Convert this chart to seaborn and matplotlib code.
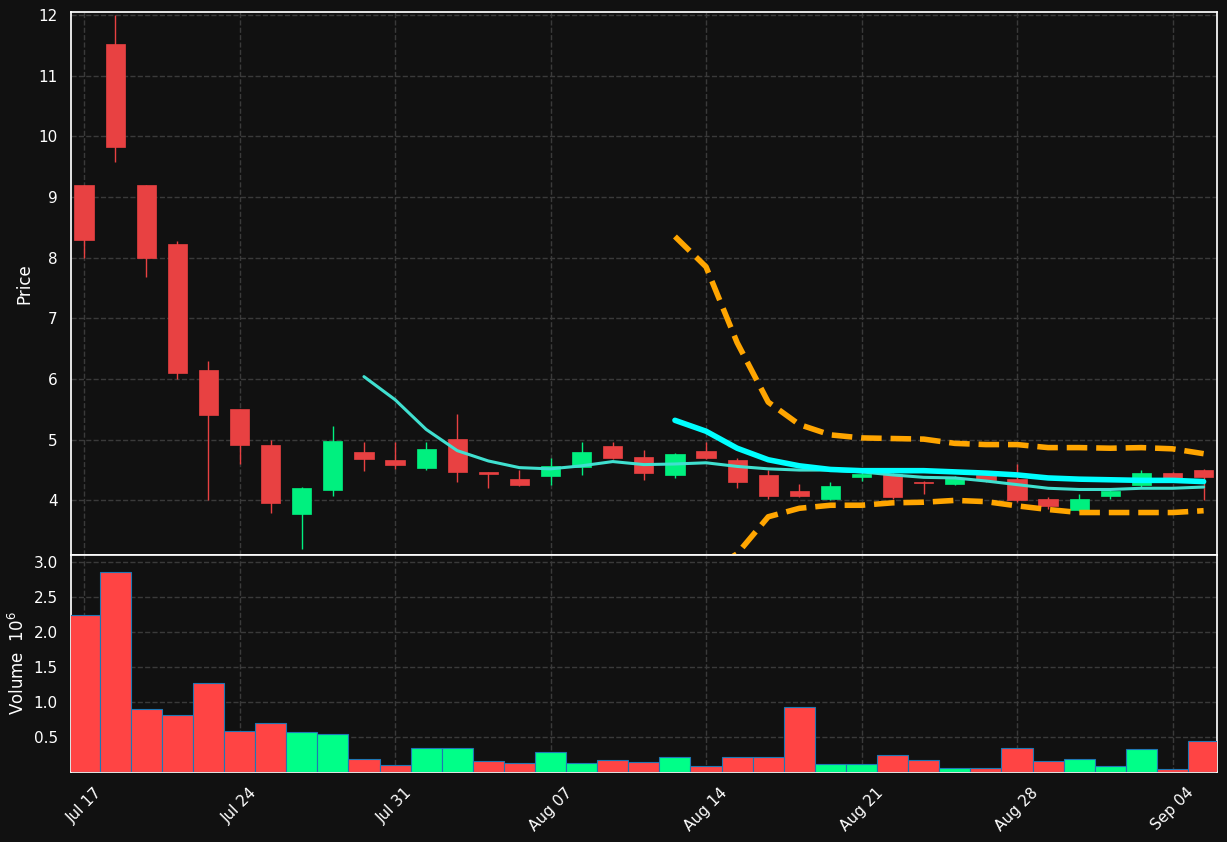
import numpy as np
import pandas as pd
import matplotlib.pyplot as plt
import seaborn as sns

dates = pd.bdate_range('2023-07-17', '2023-09-05')
opens = [9.2, 11.52, 9.2, 8.22, 6.15, 5.5, 4.91, 3.77, 4.17, 4.8, 4.67, 4.53, 5.01, 4.46, 4.35,
         4.41, 4.55, 4.89, 4.71, 4.42, 4.81, 4.66, 4.42, 4.15, 4.02, 4.38, 4.43, 4.3, 4.27, 4.42,
         4.35, 4.03, 3.84, 4.07, 4.25, 4.45, 4.5]
closes = [8.3, 9.83, 8.0, 6.1, 5.41, 4.91, 3.95, 4.2, 4.98, 4.68, 4.58, 4.84, 4.46, 4.43, 4.26,
          4.57, 4.8, 4.7, 4.45, 4.76, 4.7, 4.3, 4.07, 4.08, 4.24, 4.44, 4.05, 4.28, 4.37, 4.33,
          4.0, 3.9, 4.02, 4.15, 4.45, 4.35, 4.38]
highs = [9.2, 12.0, 9.2, 8.28, 6.3, 5.5, 5.0, 4.22, 5.23, 4.97, 4.97, 4.97, 5.42, 4.47, 4.5,
         4.7, 4.97, 4.96, 4.83, 4.78, 4.97, 4.7, 4.5, 4.27, 4.3, 4.46, 4.45, 4.32, 4.4, 4.45,
         4.6, 4.05, 4.1, 4.17, 4.5, 4.47, 4.52]
lows = [8.0, 9.58, 7.68, 6.0, 4.0, 4.6, 3.8, 3.2, 4.08, 4.48, 4.52, 4.5, 4.3, 4.2, 4.24,
        4.25, 4.42, 4.68, 4.33, 4.37, 4.68, 4.2, 4.02, 4.05, 4.0, 4.32, 4.03, 4.1, 4.25, 4.3,
        3.98, 3.86, 3.82, 4.02, 4.22, 4.33, 4.0]
volume = [2.25, 2.86, 0.9, 0.82, 1.27, 0.59, 0.7, 0.57, 0.54, 0.19, 0.1, 0.35, 0.35, 0.16, 0.13,
          0.28, 0.13, 0.17, 0.14, 0.22, 0.08, 0.22, 0.22, 0.93, 0.12, 0.11, 0.25, 0.17, 0.06, 0.06,
          0.34, 0.16, 0.19, 0.08, 0.33, 0.05, 0.44]
vol_up = "RRRRRRRGGRRGGRRGGRRGRRRRGGRRGRRRGGGRR"
ma_short = [6.04, 5.66, 5.17, 4.82, 4.65, 4.54, 4.52, 4.57, 4.64, 4.59, 4.6, 4.62, 4.56, 4.52,
            4.5, 4.5, 4.47, 4.42, 4.38, 4.37, 4.32, 4.26, 4.2, 4.18, 4.18, 4.2, 4.2, 4.22]
ma_long = [5.32, 5.14, 4.86, 4.67, 4.57, 4.51, 4.49, 4.49, 4.49, 4.47, 4.45, 4.42, 4.37, 4.35,
           4.34, 4.33, 4.33, 4.31]
band_upper = [8.35, 7.85, 6.6, 5.62, 5.25, 5.08, 5.03, 5.02, 5.01, 4.94, 4.92, 4.92, 4.87, 4.87,
              4.86, 4.87, 4.85, 4.77]
band_lower = [2.3, 2.8, 3.12, 3.73, 3.87, 3.92, 3.92, 3.96, 3.97, 4.0, 3.98, 3.91, 3.85, 3.8,
              3.8, 3.8, 3.8, 3.83]

sns.set_theme(style='darkgrid')
bg = '#111111'
plt.rcParams.update({'figure.facecolor': bg, 'axes.facecolor': bg, 'axes.edgecolor': 'white',
                     'text.color': 'white', 'axes.labelcolor': 'white',
                     'xtick.color': 'white', 'ytick.color': 'white',
                     'grid.color': '#3a3a3a', 'grid.linestyle': '--'})
plt.rcParams['font.family'] = ['DejaVu Sans']

RED, GREEN = '#e84142', '#00f07f'
fig = plt.figure(figsize=(12.27, 8.42), dpi=100)
ax = fig.add_axes([71/1227, 1-555/842, 1146/1227, 543/842])
axv = fig.add_axes([71/1227, 1-772/842, 1146/1227, 217/842], sharex=ax)

x = np.arange(len(dates))
o, c, h, l = map(np.array, (opens, closes, highs, lows))
cols = [GREEN if cc >= oo else RED for oo, cc in zip(o, c)]
ax.vlines(x, l, h, colors=cols, linewidth=1, zorder=2)
ax.bar(x, np.abs(c - o), bottom=np.minimum(o, c), width=0.62, color=cols,
       edgecolor=cols, linewidth=0.5, zorder=3)

sdf = pd.DataFrame({'x': x[9:], 'y': ma_short})
sns.lineplot(data=sdf, x='x', y='y', ax=ax, color='#40e0d0', linewidth=2.2, zorder=4)
ldf = pd.DataFrame({'x': x[19:], 'long': ma_long, 'up': band_upper, 'lo': band_lower})
sns.lineplot(data=ldf, x='x', y='long', ax=ax, color='#00ffff', linewidth=4, zorder=5)
sns.lineplot(data=ldf, x='x', y='up', ax=ax, color='orange', linewidth=4, linestyle='--', zorder=5)
sns.lineplot(data=ldf, x='x', y='lo', ax=ax, color='orange', linewidth=4, linestyle='--', zorder=5)

ax.set_ylim(3.1, 12.05)
ax.set_ylabel('Price')
ax.set_xlabel('')
ax.tick_params(labelbottom=False)

vcols = ['#00ff88' if v == 'G' else '#ff4444' for v in vol_up]
axv.bar(x, volume, width=1.0, color=vcols, edgecolor='#1f77b4', linewidth=0.8, zorder=3)
axv.set_ylim(0, 3.1)
axv.set_yticks([0.5, 1.0, 1.5, 2.0, 2.5, 3.0])
axv.set_ylabel('Volume  $10^6$')
axv.set_xlim(-0.42, 36.43)
ticks = list(range(0, 37, 5))
axv.set_xticks(ticks)
axv.set_xticklabels([dates[i].strftime('%b %d') for i in ticks], rotation=45)
for a in (ax, axv):
    a.grid(True, color='#3a3a3a', linestyle='--')
    for s in a.spines.values():
        s.set_color('white')

fig.savefig('out.png', dpi=100, facecolor=bg)
